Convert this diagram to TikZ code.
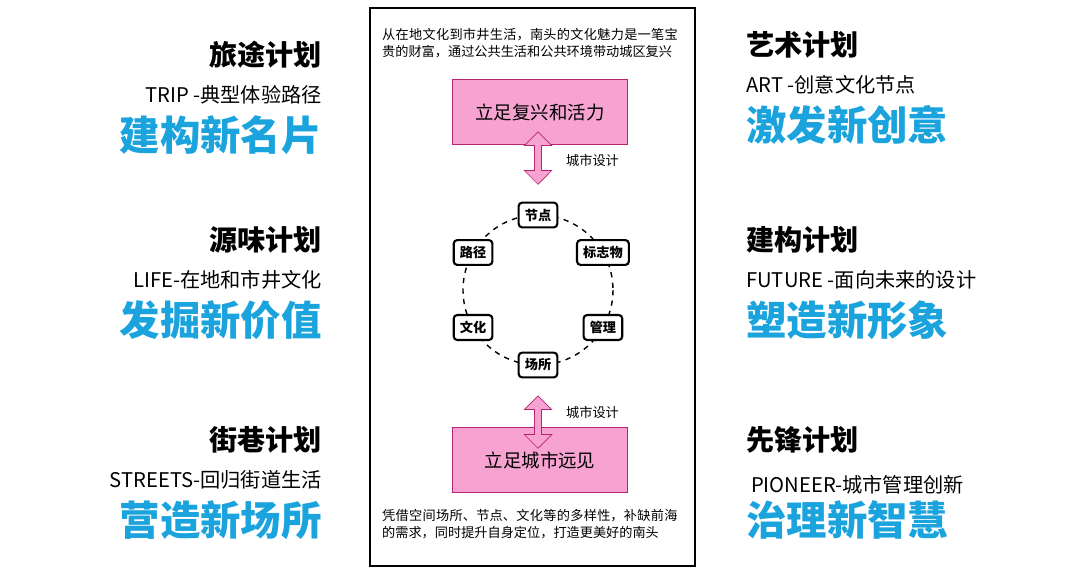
\documentclass[tikz,border=0pt]{standalone}
\usepackage{fontspec}
\setmainfont{Noto Sans CJK SC}
\XeTeXlinebreaklocale "zh"
\XeTeXlinebreakskip=0pt plus 1pt
\usetikzlibrary{shapes.arrows,calc}
\definecolor{skyblue}{HTML}{1AA3DC}
\definecolor{pinkfill}{HTML}{F6A3D2}
\definecolor{pinkline}{HTML}{B8236F}
\tikzset{
    title/.style={font=\fontsize{16}{18}\selectfont\bfseries},
    subtitle/.style={font=\fontsize{11.5}{13}\selectfont},
    slogan/.style={font=\fontsize{23}{25}\selectfont\bfseries, text=skyblue},
    goalbox/.style={draw=pinkline, fill=pinkfill, minimum width=3.5cm, minimum height=1.3cm, font=\fontsize{10.5}{12}\selectfont},
    ringnode/.style={draw, very thick, rounded corners=2pt, fill=white, font=\fontsize{7.5}{8}\selectfont\bfseries, inner sep=3.5pt},
    linkarrow/.style={double arrow, draw=pinkline, fill=pinkfill, rotate=90, minimum height=1.05cm, minimum width=0.55cm, inner sep=1pt, double arrow head extend=1.2mm},
    note/.style={font=\fontsize{7.5}{9.5}\selectfont, text width=6cm, align=left, anchor=north west}
}
\begin{document}
\begin{tikzpicture}[x=0.02cm, y=-0.02cm]
    \useasboundingbox (0,0) rectangle (1080,579);
    % left column
    \node [title, anchor=east] (tripT) at (328,55) {旅途计划};
    \node [subtitle, anchor=east] (tripS) at (328,95) {TRIP -典型体验路径};
    \node [slogan, anchor=east] (tripB) at (328,135) {建构新名片};
    \node [title, anchor=east] (lifeT) at (328,240) {源味计划};
    \node [subtitle, anchor=east] (lifeS) at (328,280) {LIFE-在地和市井文化};
    \node [slogan, anchor=east] (lifeB) at (328,320) {发掘新价值};
    \node [title, anchor=east] (streetT) at (328,440) {街巷计划};
    \node [subtitle, anchor=east] (streetS) at (328,480) {STREETS-回归街道生活};
    \node [slogan, anchor=east] (streetB) at (328,520) {营造新场所};
    % right column
    \node [title, anchor=west] (artT) at (740,45) {艺术计划};
    \node [subtitle, anchor=west] (artS) at (740,85) {ART -创意文化节点};
    \node [slogan, anchor=west] (artB) at (740,125) {激发新创意};
    \node [title, anchor=west] (futT) at (740,240) {建构计划};
    \node [subtitle, anchor=west] (futS) at (740,280) {FUTURE -面向未来的设计};
    \node [slogan, anchor=west] (futB) at (740,320) {塑造新形象};
    \node [title, anchor=west] (pioT) at (740,440) {先锋计划};
    \node [subtitle, anchor=west] (pioS) at (745,485) {PIONEER-城市管理创新};
    \node [slogan, anchor=west] (pioB) at (740,520) {治理新智慧};
    % middle panel
    \draw [thick] (370,8) rectangle (695,566);
    \node [note] (topnote) at (376,22) {从在地文化到市井生活，南头的文化魅力是一笔宝贵的财富，通过公共生活和公共环境带动城区复兴};
    \node [goalbox] (revive) at (540,112) {立足复兴和活力};
    \node [goalbox] (vision) at (540,460) {立足城市远见};
    \node [note] (botnote) at (376,503) {凭借空间场所、节点、文化等的多样性，补缺前海的需求，同时提升自身定位，打造更美好的南头};
    \draw [thick, dashed] (538,290) circle (75);
    \foreach \name/\ang/\txt in {node/90/节点, mark/30/标志物, manage/-30/管理, place/-90/场所, culture/210/文化, path/150/路径}
        \node [ringnode] (\name) at ($(538,290)+(-\ang:75)$) {\txt};
    \node [linkarrow] (upper) at (538,158) {};
    \node [linkarrow] (lower) at (538,422) {};
    \node [subtitle, font=\fontsize{7.5}{9}\selectfont, anchor=west] (designA) at (560,160) {城市设计};
    \node [subtitle, font=\fontsize{7.5}{9}\selectfont, anchor=west] (designB) at (560,412) {城市设计};
\end{tikzpicture}
\end{document}
